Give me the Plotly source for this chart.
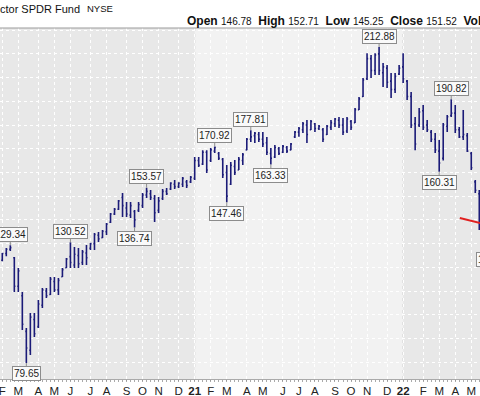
import plotly.graph_objects as go
import pandas as pd

# ---------------- data (weekly OHLC) ----------------
start_week = "2020-02-03"
highs = [126.0, 128.1, 129.34, 124.3, 119.7, 109.6, 94.4, 100.7, 100.7, 106.2,
         111.3, 111.3, 115.9, 115.9, 115.5, 119.7, 123.9, 130.52, 128.6, 128.1,
         127.3, 129.4, 130.2, 134.5, 134.9, 135.7, 138.7, 142.9, 145.0, 148.4,
         151.3, 147.5, 147.5, 144.2, 147.5, 151.3, 153.57, 152.6, 150.5, 149.6,
         153.0, 153.4, 155.9, 156.8, 155.9, 158.1, 156.8, 158.5, 166.5, 166.5,
         169.4, 169.4, 170.3, 170.92, 168.6, 166.1, 163.1, 164.4, 165.2, 166.5,
         168.2, 174.5, 177.81, 177.0, 177.0, 177.0, 174.9, 170.3, 171.6, 170.7,
         171.6, 171.1, 172.4, 177.5, 179.2, 181.3, 182.1, 182.1, 180.8, 180.0,
         178.7, 180.0, 182.1, 183.0, 183.4, 183.0, 183.4, 182.1, 187.2, 191.8,
         199.8, 210.3, 209.5, 210.3, 212.88, 206.1, 205.3, 201.9, 201.9, 205.3,
         210.3, 199.0, 193.9, 183.4, 187.2, 188.4, 182.1, 177.9, 176.6, 173.7,
         180.8, 184.2, 190.82, 188.4, 179.2, 186.3, 176.6, 168.6, 156.8, 152.6]
lows = [122.6, 124.7, 126.9, 109.6, 109.6, 93.6, 79.65, 83.0, 90.6, 94.4,
        102.8, 107.1, 108.3, 109.6, 108.3, 115.9, 119.7, 119.7, 119.7, 119.7,
        121.0, 121.0, 127.3, 127.3, 130.7, 132.4, 133.6, 138.7, 142.1, 144.2,
        141.2, 141.2, 140.8, 136.74, 143.3, 145.0, 149.2, 148.4, 139.1, 142.9,
        148.4, 150.5, 152.6, 153.0, 153.4, 153.9, 153.4, 155.5, 156.8, 162.3,
        163.1, 159.8, 164.4, 168.2, 165.2, 157.7, 147.46, 154.7, 158.9, 161.0,
        163.1, 169.4, 172.8, 172.4, 172.8, 170.7, 167.3, 163.33, 166.1, 167.3,
        168.2, 168.2, 169.4, 174.5, 175.0, 176.6, 172.4, 177.9, 177.0, 177.9,
        172.8, 175.8, 177.9, 179.2, 178.7, 175.8, 176.6, 177.9, 180.8, 186.3,
        191.8, 199.0, 199.8, 201.1, 201.1, 196.0, 195.6, 191.4, 193.5, 201.1,
        197.7, 190.5, 178.7, 169.4, 179.2, 177.9, 177.0, 172.8, 168.2, 160.31,
        165.0, 177.0, 183.4, 176.6, 174.5, 173.7, 168.6, 161.0, 151.3, 135.7]
opens = [123.0, 125.8, 127.6, 124.0, 112.0, 108.0, 93.0, 85.0, 98.0, 95.0,
         104.0, 110.0, 108.5, 114.0, 110.5, 116.0, 119.8, 124.5, 121.0, 125.0,
         122.0, 126.0, 128.0, 130.0, 133.5, 132.5, 135.0, 139.0, 142.5, 144.5,
         149.5, 145.0, 142.0, 143.5, 144.0, 146.0, 150.5, 151.0, 149.0, 144.0,
         149.0, 152.0, 153.0, 155.0, 154.0, 155.0, 156.0, 156.0, 157.5, 165.0,
         163.5, 168.5, 165.0, 169.0, 168.0, 165.5, 160.0, 155.0, 162.5, 161.0,
         165.0, 169.5, 174.0, 175.5, 176.0, 174.0, 172.5, 168.0, 166.5, 170.0,
         168.5, 170.5, 169.5, 175.0, 177.0, 178.0, 180.0, 178.0, 180.5, 178.5,
         178.0, 176.0, 179.0, 180.5, 182.0, 180.0, 177.5, 181.5, 181.0, 186.5,
         192.0, 199.5, 208.0, 203.0, 210.0, 202.0, 204.0, 198.5, 195.0, 201.5,
         204.5, 198.5, 192.0, 180.5, 180.0, 186.0, 180.0, 177.0, 174.0, 169.0,
         166.0, 179.5, 184.0, 185.0, 178.0, 175.0, 175.5, 168.0, 156.0, 151.0]
closes = [125.8, 127.6, 128.3, 112.0, 118.5, 96.0, 86.0, 99.0, 92.0, 104.5,
          110.5, 108.0, 115.0, 110.5, 114.5, 119.0, 123.5, 122.0, 125.5, 121.5,
          126.5, 124.0, 130.0, 133.8, 132.0, 135.2, 138.2, 142.5, 144.5, 148.0,
          146.0, 142.5, 146.0, 140.0, 146.5, 150.5, 152.0, 149.5, 143.0, 148.0,
          152.0, 151.0, 155.5, 154.0, 155.5, 157.5, 154.5, 158.0, 165.0, 163.0,
          168.5, 161.0, 169.5, 170.5, 166.0, 159.0, 150.0, 163.0, 160.0, 165.5,
          167.5, 174.0, 175.0, 176.5, 174.0, 172.0, 168.5, 166.0, 170.5, 168.0,
          171.0, 169.0, 172.0, 177.0, 178.5, 180.5, 176.0, 181.5, 178.5, 179.5,
          174.0, 179.5, 181.0, 182.5, 180.0, 177.0, 182.5, 179.0, 186.5, 191.0,
          199.0, 208.0, 203.0, 209.5, 203.0, 204.5, 198.0, 195.0, 200.5, 204.0,
          199.5, 192.0, 180.0, 172.0, 185.5, 179.0, 178.0, 174.0, 169.5, 164.0,
          180.0, 183.5, 185.0, 178.0, 175.0, 176.0, 169.0, 162.0, 152.5, 139.0]

# swing labels: (bar index, "high" or "low")
swing_labels = [(2, "high"), (6, "low"), (17, "high"), (33, "low"), (36, "high"),
                (53, "high"), (56, "low"), (62, "high"), (67, "low"),
                (94, "high"), (109, "low"), (112, "high")]
# swing label of the next (off-chart) bar: only its left edge shows at the right border
offchart_label_value = 131.62

title_text = "XLY Consumer Discretionary Select Sector SPDR Fund"
exchange = "NYSE"
quote = [("Open", "146.78"), ("High", "152.71"), ("Low", "145.25"),
         ("Close", "151.52"), ("Vol", "")]

# red trend segment (date, price)
red_line = [("2022-04-12", 140.8), ("2022-05-18", 138.6)]

x_window = ["2020-01-30", "2022-05-17 06:00"]
y_window = [72.9, 220.9]

# ---------------- figure ----------------
dates = pd.date_range(start_week, periods=len(highs), freq="7D")
BAR = "#1b1b78"
FONT = "Liberation Sans, Arial, sans-serif"

fig = go.Figure(go.Ohlc(
    x=dates, open=opens, high=highs, low=lows, close=closes,
    increasing=dict(line=dict(color=BAR, width=1.6)),
    decreasing=dict(line=dict(color=BAR, width=1.6)),
    tickwidth=0.28, hoverinfo="skip", showlegend=False))

# month ticks at first bar of each month
s = pd.Series(dates)
first = s.groupby([s.dt.year, s.dt.month]).min()
tickvals, ticktext = [], []
for d in first:
    tickvals.append(d)
    if d.month == 1:
        ticktext.append("<b>%02d</b>" % (d.year % 100))
    else:
        ticktext.append("JFMAMJJASOND"[d.month - 1])
year_starts = [d for d in first if d.month == 1]

shapes = []
shapes.append(dict(type="rect", xref="x", yref="paper", x0=x_window[0], x1=year_starts[0],
                   y0=0, y1=1, fillcolor="#e8e8e8", line=dict(width=0), layer="below"))
shapes.append(dict(type="rect", xref="x", yref="paper", x0=year_starts[1], x1=x_window[1],
                   y0=0, y1=1, fillcolor="#e8e8e8", line=dict(width=0), layer="below"))
for ys in year_starts:
    shapes.append(dict(type="line", xref="x", yref="paper", x0=ys, x1=ys, y0=0, y1=1,
                       line=dict(color="#c4c4c4", width=1, dash="dot"), layer="below"))
shapes.append(dict(type="line", xref="paper", yref="paper", x0=0, x1=1, y0=1, y1=1,
                   line=dict(color="#9a9a9a", width=1)))
shapes.append(dict(type="line", xref="x", yref="y", x0=red_line[0][0], y0=red_line[0][1],
                   x1=red_line[1][0], y1=red_line[1][1], line=dict(color="#e02020", width=2)))

box_style = dict(font=dict(family=FONT, size=10, color="#222"),
                 bgcolor="#fafafa", bordercolor="#8c8c8c", borderwidth=1, borderpad=1)
annotations = []
for idx, kind in swing_labels:
    v = highs[idx] if kind == "high" else lows[idx]
    annotations.append(dict(x=dates[idx], y=v, xref="x", yref="y", text="%.2f" % v,
                            showarrow=True, arrowhead=0, arrowwidth=1, arrowcolor="#8c8c8c",
                            ax=0, ay=-11 if kind == "high" else 11, **box_style))

PLOT_TOP = 28
PLOT_BOTTOM_MARGIN = 17
PLOT_H = 396 - PLOT_TOP - PLOT_BOTTOM_MARGIN
def py(pix):
    return (396 - PLOT_BOTTOM_MARGIN - pix) / PLOT_H

annotations.append(dict(xref="paper", yref="paper", x=476 / 480, y=py(259), xanchor="left",
                        yanchor="middle", showarrow=False, text="%.2f" % offchart_label_value,
                        **box_style))
annotations.append(dict(xref="paper", yref="paper", x=82 / 480, y=py(9), xanchor="right",
                        yanchor="middle", showarrow=False, text=title_text,
                        font=dict(family=FONT, size=11, color="#111")))
annotations.append(dict(xref="paper", yref="paper", x=85 / 480, y=py(9), xanchor="left",
                        yanchor="middle", showarrow=False, text=exchange,
                        font=dict(family=FONT, size=9.5, color="#111")))
qtext = "  ".join("<b>%s</b> <span style='font-size:10px'>%s</span>" % (k, v) if v else "<b>%s</b>" % k
                  for k, v in quote)
annotations.append(dict(xref="paper", yref="paper", x=185 / 480, y=py(21), xanchor="left",
                        yanchor="middle", showarrow=False, text=qtext,
                        font=dict(family=FONT, size=12, color="#111")))

fig.update_layout(
    width=480, height=396,
    margin=dict(l=0, r=0, t=PLOT_TOP, b=PLOT_BOTTOM_MARGIN, autoexpand=False),
    paper_bgcolor="white", plot_bgcolor="#f2f2f2",
    showlegend=False,
    shapes=shapes, annotations=annotations,
    xaxis=dict(type="date", range=x_window, rangeslider=dict(visible=False),
               tickmode="array", tickvals=tickvals, ticktext=ticktext, automargin=False,
               ticklabeloverflow="allow",
               showgrid=True, gridcolor="#ffffff", griddash="dot", gridwidth=1,
               ticks="outside", ticklen=1, tickcolor="#999", showline=True,
               linecolor="#aaa", linewidth=1,
               minor=dict(ticks="outside", ticklen=2, tickcolor="#aaa",
                          dtick=7 * 86400000, tick0=start_week, showgrid=False),
               tickfont=dict(family=FONT, size=11.5, color="#222"), fixedrange=True),
    yaxis=dict(range=y_window, tick0=0, dtick=10, showgrid=True, gridcolor="#ffffff",
               griddash="dot", showticklabels=False, zeroline=False, ticks="",
               automargin=False, fixedrange=True),
)

fig.write_html("out.html", config={"displayModeBar": False},
               post_script="document.body.style.margin='0';document.body.style.overflow='hidden';")
